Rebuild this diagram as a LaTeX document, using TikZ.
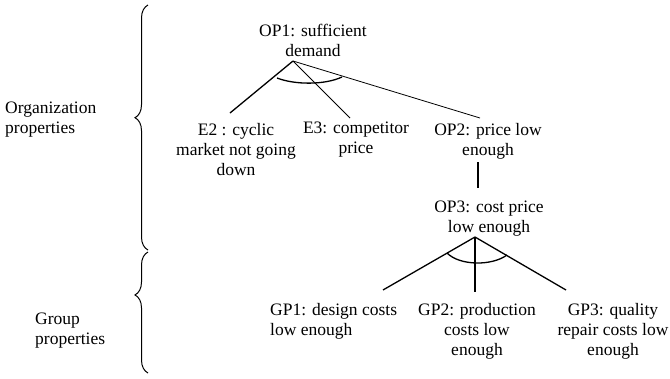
\documentclass[tikz,border=0pt]{standalone}
\usepackage{fontspec}
\setmainfont{Liberation Serif}
\usetikzlibrary{decorations.pathreplacing}

\begin{document}
\begin{tikzpicture}[
      x=1pt, y=-1pt,
      every node/.style={inner sep=0pt, align=center, font=\fontsize{17.5}{20}\selectfont},
      thick line/.style={line width=1.3pt},
      thin line/.style={line width=0.8pt},
      bracket/.style={decorate, line width=1pt, decoration={brace, amplitude=13pt, aspect=#1}}
    ]
    \useasboundingbox (0,0) rectangle (670,378);

    % left side: the two groups
    \node (org) [anchor=west, align=left] at (5,120) {Organization\\properties};
    \node (grp) [anchor=west, align=left] at (35,331) {Group\\properties};
    \draw[bracket=0.54] (148,250) -- (148,5);
    \draw[bracket=0.645] (148,373) -- (148,252);

    % organization level
    \node (OP1) at (313,40) {OP1: sufficient\\demand};
    \node (E2) at (236,150) {E2 : cyclic\\market not going\\down};
    \node (E3) at (356,140) {E3: competitor\\price};
    \node (OP2) at (488,141) {OP2: price low\\enough};
    \node (OP3) at (489,219) {OP3: cost price\\low enough};

    \coordinate (OP1fan) at (293,61);
    \coordinate (E2top) at (230,113);
    \coordinate (E3top) at (350,118);
    \coordinate (OP2top) at (480,118);
    \draw[thick line] (OP1fan) -- (E2top);
    \draw[thin line] (OP1fan) -- (E3top);
    \draw[thin line] (OP1fan) -- (OP2top);
    \draw[thick line] (277,78) .. controls (295,85) and (325,85) .. (342,77);

    \coordinate (OP2foot) at (478,162);
    \coordinate (OP3head) at (478,188);
    \draw[thick line] (OP2foot) -- (OP3head);

    % group level
    \node (GP1) [anchor=west, align=left] at (270,321) {GP1: design costs\\low enough};
    \node (GP2) at (477,331) {GP2: production\\costs low\\enough};
    \node (GP3) at (613,331) {GP3: quality\\repair costs low\\enough};

    \coordinate (OP3fan) at (475,237);
    \coordinate (GP1top) at (383,290);
    \coordinate (GP2top) at (475,292);
    \coordinate (GP3top) at (566,290);
    \foreach \gp in {GP1top,GP2top,GP3top}
        \draw[thick line] (OP3fan) -- (\gp);
    \draw[thick line] (447,253) .. controls (460,266) and (492,266) .. (507,255);

\end{tikzpicture}
\end{document}
